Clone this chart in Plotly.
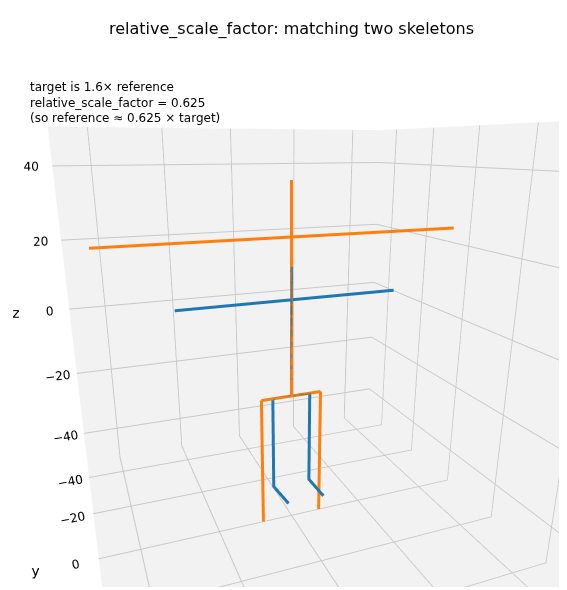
import plotly.graph_objects as go

# reference skeleton segments (x, y, z lists), None breaks segments
ref_x = [0, 0, None, 28, -28, None, 5, -5, None, 5, 5, 2, None, -5, -5, -8]
ref_y = [0, 0, None, 0, 0, None, 0, 0, None, 0, 0, 3, None, 0, 0, 3]
ref_z = [-15, 18, None, 10, 10, None, -15, -15, None, -15, -40, -44, None, -15, -40, -44]

scale = 1.6
root_z = -15
tgt_x = [None if v is None else v * scale for v in ref_x]
tgt_y = [None if v is None else v * scale for v in ref_y]
tgt_z = [None if v is None else root_z + (v - root_z) * scale for v in ref_z]

fig = go.Figure()
fig.add_trace(go.Scatter3d(x=ref_x, y=ref_y, z=ref_z, mode="lines",
                           line=dict(color="#1f77b4", width=6), name="reference"))
fig.add_trace(go.Scatter3d(x=tgt_x, y=tgt_y, z=tgt_z, mode="lines",
                           line=dict(color="#ff7f0e", width=6), name="target"))

ax = dict(range=[-50, 50], tickvals=[-40, -20, 0, 20, 40], backgroundcolor="#f2f2f2",
          showbackground=True, gridcolor="#c8c8c8", zeroline=False,
          tickfont=dict(size=12))
fig.update_layout(
    width=567, height=590, showlegend=False,
    font=dict(family="DejaVu Sans", color="black"),
    title=dict(text="relative_scale_factor: matching two skeletons", x=0.5, y=0.975,
               font=dict(size=16)),
    margin=dict(l=0, r=0, t=40, b=0),
    paper_bgcolor="white",
    scene=dict(xaxis=dict(ax, title="x"), yaxis=dict(ax, title="y"), zaxis=dict(ax, title="z"),
               aspectmode="cube", domain=dict(x=[0, 1], y=[0.02, 0.92]),
               camera=dict(eye=dict(x=0.5, y=1.3, z=0.45), projection=dict(type="perspective"))),
    annotations=[dict(text="target is 1.6× reference<br>relative_scale_factor = 0.625<br>(so reference ≈ 0.625 × target)",
                      x=0.035, y=0.945, xref="paper", yref="paper", xanchor="left", yanchor="top",
                      align="left", showarrow=False, font=dict(size=12))],
)
fig.write_html("out.html")
